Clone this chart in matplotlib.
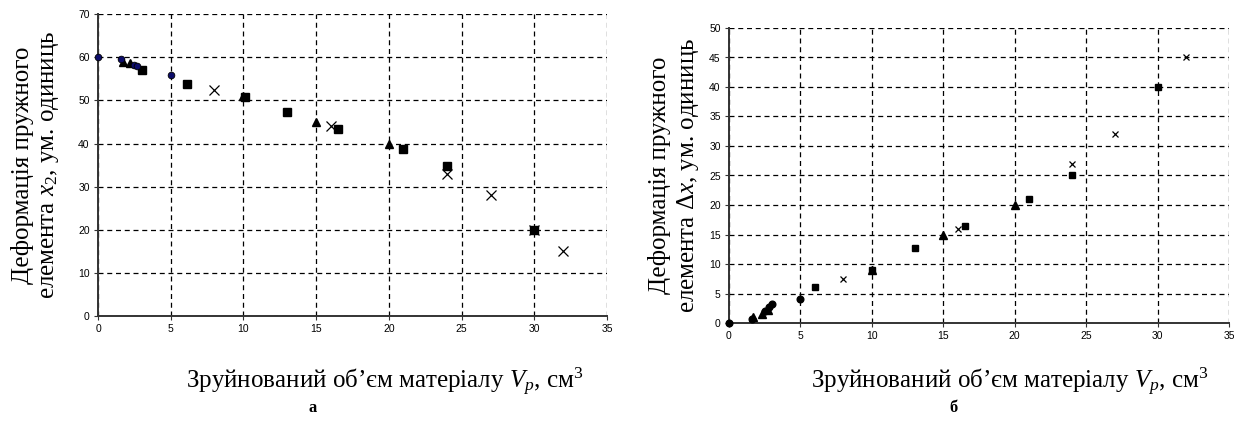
import matplotlib
matplotlib.use('Agg')
import matplotlib.pyplot as plt

plt.rcParams['font.family'] = ['Liberation Sans', 'DejaVu Sans']
plt.rcParams['mathtext.fontset'] = 'custom'
plt.rcParams['mathtext.rm'] = 'Liberation Serif'
plt.rcParams['mathtext.it'] = 'Liberation Serif:italic'

# ---- data: panel а (x2 vs Vp) ----
a_circ_x = [0, 1.6, 2.5, 2.7, 5]
a_circ_y = [60, 59.7, 58.3, 57.9, 56]
a_tri_x = [1.7, 2.2, 10, 15, 20]
a_tri_y = [59.0, 58.6, 51, 45, 40]
a_sq_x = [3.0, 6.1, 10.1, 13.0, 16.5, 21.0, 24.0, 30.0]
a_sq_y = [57.0, 53.8, 50.8, 47.3, 43.4, 38.8, 34.9, 20.0]
a_x_x = [8, 16, 24, 27, 30, 32]
a_x_y = [52.5, 44, 33, 28, 20, 15]

# ---- data: panel б (dx vs Vp) ----
b_circ_x = [0, 1.6, 2.5, 2.8, 3.0, 5]
b_circ_y = [0, 0.6, 2.0, 2.7, 3.3, 4.0]
b_tri_x = [1.7, 2.3, 2.7, 10, 15, 20]
b_tri_y = [1.0, 1.5, 2.2, 9, 15, 20]
b_sq_x = [6, 10, 13, 16.5, 21, 24, 30]
b_sq_y = [6.1, 9, 12.7, 16.5, 21.1, 25, 40]
b_x_x = [8, 16, 24, 27, 32]
b_x_y = [7.5, 16, 27, 32, 45]

x_ticks = [0, 5, 10, 15, 20, 25, 30, 35]
a_yticks = [0, 10, 20, 30, 40, 50, 60, 70]
b_yticks = [0, 5, 10, 15, 20, 25, 30, 35, 40, 45, 50]

xlabel = 'Зруйнований об’єм матеріалу $V_p$, см$^3$'
a_ylabel = 'Деформація пружного\nелемента $x_2$, ум. одиниць'
b_ylabel = 'Деформація пружного\nелемента $\\mathit{Δx}$, ум. одиниць'

W, H = 1234, 423
fig = plt.figure(figsize=(W/100, H/100), dpi=100)
axL = fig.add_axes([98/W, 1-316/H, (607-98)/W, (316-14.3)/H])
axR = fig.add_axes([729/W, 1-323/H, (1229-729)/W, (323-28)/H])


def style(ax, yticks):
    ax.set_xlim(0, 35)
    ax.set_ylim(0, yticks[-1])
    ax.set_xticks(x_ticks)
    ax.set_yticks(yticks)
    ax.set_axisbelow(True)
    ax.grid(True, color='black', linestyle=(0, (4, 3)), linewidth=0.9)
    for s in ['top', 'right']:
        ax.spines[s].set_visible(False)
    for s in ['left', 'bottom']:
        ax.spines[s].set_color('#333333')
        ax.spines[s].set_linewidth(1.4)
    ax.tick_params(labelsize=7.5, length=3, width=0.8, color='#333333',
                   direction='out', pad=3)


style(axL, a_yticks)
style(axR, b_yticks)

kw = dict(linestyle='none', clip_on=False, zorder=3)
axL.plot(a_x_x, a_x_y, marker='x', ms=7.5, mew=0.9, color='black', **kw)
axL.plot(a_sq_x, a_sq_y, marker='s', ms=6.2, color='black', **kw)
axL.plot(a_tri_x, a_tri_y, marker='^', ms=6, color='black', **kw)
axL.plot(a_circ_x, a_circ_y, marker='o', ms=4.8, mfc='#0c0c6a', mec='black',
         mew=0.6, **kw)

axR.plot(b_x_x, b_x_y, marker='x', ms=4.6, mew=0.9, color='black', **kw)
axR.plot(b_sq_x, b_sq_y, marker='s', ms=4.0, color='black', **kw)
axR.plot(b_tri_x, b_tri_y, marker='^', ms=5.5, color='black', **kw)
axR.plot(b_circ_x, b_circ_y, marker='o', ms=4.8, color='black', **kw)

serif = ['Liberation Serif', 'DejaVu Serif']
FS = 18
axL.set_ylabel(a_ylabel, family=serif, fontsize=FS, labelpad=12, linespacing=1.2)
axR.set_ylabel(b_ylabel, family=serif, fontsize=FS, labelpad=6, linespacing=1.2)

fig.text(385/W, 1-388/H, xlabel, family=serif, fontsize=FS,
         ha='center', va='baseline')
fig.text(1010/W, 1-388/H, xlabel, family=serif, fontsize=FS,
         ha='center', va='baseline')

fig.text(313/W, 1-408/H, 'а', family=serif, fontsize=12,
         weight='bold', ha='center', va='center')
fig.text(953/W, 1-408/H, 'б', family=serif, fontsize=12,
         weight='bold', ha='center', va='center')

fig.savefig('out.png', dpi=100)
